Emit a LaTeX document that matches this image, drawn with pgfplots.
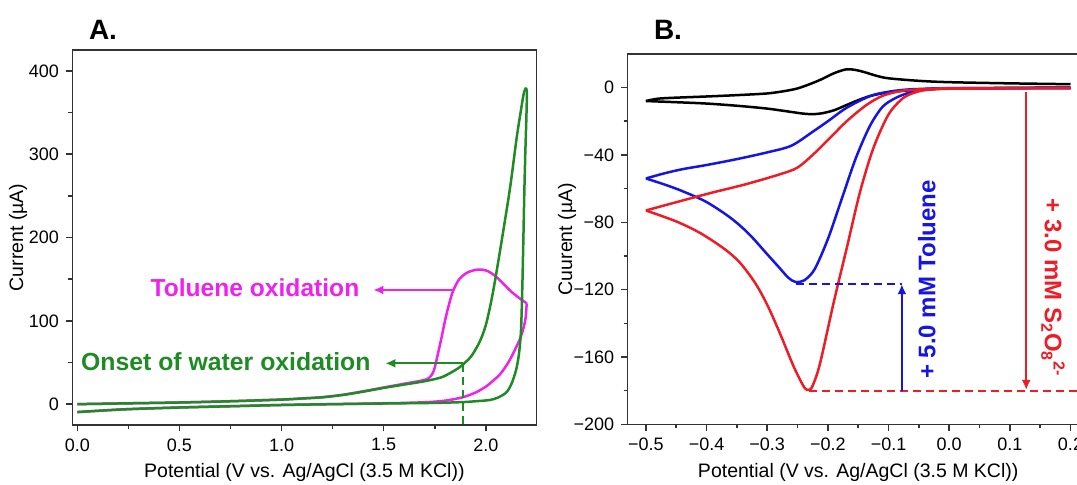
\documentclass[border=0pt]{standalone}
\usepackage{fontspec}
\setmainfont{Liberation Sans}
\usepackage{pgfplots}
\pgfplotsset{compat=1.18}
\usetikzlibrary{arrows.meta}

\definecolor{cvgreen}{HTML}{1F8B24}
\definecolor{cvmag}{HTML}{EE22EE}
\definecolor{cvblue}{HTML}{1414E6}
\definecolor{cvred}{HTML}{EE1C25}
\definecolor{axgray}{HTML}{333333}

\pgfplotsset{
  cvaxis/.style={
    scale only axis,
    axis line style={line width=0.75pt, axgray},
    tick align=outside, xtick pos=left, ytick pos=left,
    major tick length=3.2pt, minor tick length=2pt,
    every tick/.style={axgray, line width=0.75pt},
    tick label style={font=\fontsize{9}{10}\selectfont},
    label style={font=\fontsize{9.75}{11}\selectfont},
    every axis plot/.append style={line width=1.25pt, line join=round, smooth, tension=0.5},
  },
}

\begin{document}
\begin{tikzpicture}

% ---------- panel A ----------
\begin{axis}[cvaxis,
  at={(36.15pt,30pt)}, anchor=south west,
  width=232.1pt, height=187.5pt,
  xmin=-0.0245, xmax=2.248, ymin=-25, ymax=425,
  xtick={0,0.5,1,1.5,2}, xticklabels={0.0,0.5,1.0,1.5,2.0},
  minor xtick={0.25,0.75,1.25,1.75},
  ytick={0,100,200,300,400}, yticklabels={0,100,200,300,400},
  minor ytick={50,150,250,350},
  xlabel={Potential (V vs. Ag/AgCl (3.5 M KCl))},
  ylabel={Current (µA)},
  xlabel style={at={(axis description cs:0.5,-0.1253)}, anchor=center},
  ylabel style={at={(axis description cs:-0.117,0.5)}, anchor=center},
]
% with toluene: forward, then reverse
\addplot[cvmag] coordinates {
(0,0) (0.25,1) (0.5,2) (0.75,3.5) (1.0,5.5) (1.1,6.8) (1.2,8.3) (1.3,11.3)
(1.4,15.5) (1.5,20) (1.6,24.5) (1.68,28) (1.72,31) (1.745,40) (1.765,60) (1.785,82)
(1.80,100) (1.82,120) (1.84,136) (1.87,150) (1.91,158) (1.96,161.5) (2.0,160.5)
(2.04,155) (2.08,146) (2.12,136) (2.16,128) (2.2,121)};
\addplot[cvmag] coordinates {
(2.2,121) (2.195,104) (2.185,92) (2.17,80) (2.14,64) (2.11,50) (2.07,36) (2.03,27)
(2.0,21) (1.95,14) (1.89,8.5) (1.81,4.5) (1.72,2.5) (1.6,1.5) (1.5,1) (1.25,0)
(1.0,-1) (0.75,-2.5) (0.5,-4) (0.25,-6) (0.1,-8) (0,-9.5)};
% blank electrolyte: forward, then reverse
\addplot[cvgreen] coordinates {
(0,0) (0.25,1) (0.5,2) (0.75,3.5) (1.0,5.5) (1.1,6.8) (1.2,8.3) (1.3,11)
(1.4,15) (1.5,19.5) (1.6,23.5) (1.7,27.5) (1.78,32) (1.83,38) (1.87,44) (1.89,48)
(1.93,58) (1.97,75) (2.0,95) (2.03,128) (2.06,170) (2.09,215) (2.12,262) (2.15,318)
(2.17,350) (2.185,372) (2.195,379) (2.2,377)};
\addplot[cvgreen] coordinates {
(2.2,377) (2.201,370) (2.198,340) (2.193,300) (2.188,250) (2.183,190) (2.178,135)
(2.172,88) (2.162,60) (2.148,41) (2.125,24) (2.10,14) (2.06,8) (2.02,5)
(1.95,3.5) (1.89,2.5) (1.75,1.5) (1.5,0.8) (1.25,0) (1.0,-1) (0.75,-2.5)
(0.5,-4) (0.25,-6) (0.1,-8) (0,-9.5)};
\draw[cvgreen, line width=1.1pt, dash pattern=on 4pt off 2.5pt]
  (axis cs:1.889,48) -- (axis cs:1.889,-25);
\draw[cvgreen, line width=1.1pt, -{Latex[length=5pt,width=4.5pt]}]
  (axis cs:1.889,49) -- (axis cs:1.508,49);
\draw[cvmag, line width=1.1pt, -{Latex[length=5pt,width=4.5pt]}]
  (axis cs:1.845,137) -- (axis cs:1.449,137);
\node[cvmag, font=\bfseries\fontsize{12.3}{14}\selectfont, anchor=east]
  at (axis cs:1.415,140) {Toluene oxidation};
\node[cvgreen, font=\bfseries\fontsize{12.4}{14}\selectfont, anchor=east]
  at (axis cs:1.47,51) {Onset of water oxidation};
\end{axis}

% ---------- panel B ----------
\begin{axis}[cvaxis,
  at={(313.85pt,30.35pt)}, anchor=south west,
  width=230.5pt, height=185.2pt,
  xmin=-0.530, xmax=0.230, ymin=-200, ymax=20,
  xtick={-0.5,-0.4,-0.3,-0.2,-0.1,0,0.1,0.2},
  xticklabels={−0.5,−0.4,−0.3,−0.2,−0.1,0.0,0.1,0.2},
  minor xtick={-0.45,-0.35,-0.25,-0.15,-0.05,0.05,0.15},
  ytick={-200,-160,-120,-80,-40,0},
  yticklabels={−200,−160,−120,−80,−40,0},
  minor ytick={-180,-140,-100,-60,-20},
  xlabel={Potential (V vs. Ag/AgCl (3.5 M KCl))},
  ylabel={Cuurent (µA)},
  xlabel style={at={(axis description cs:0.5,-0.129)}, anchor=center},
  ylabel style={at={(axis description cs:-0.1317,0.5)}, anchor=center},
]
% blank: cathodic sweep, then anodic sweep
\addplot[black] coordinates {
(0.2,0) (0.1,-0.2) (0.0,-0.5) (-0.05,-1.2) (-0.1,-2.8) (-0.13,-5) (-0.15,-7.5)
(-0.17,-10.5) (-0.19,-13.5) (-0.21,-15.3) (-0.225,-15.8) (-0.24,-15.5)
(-0.26,-14.5) (-0.3,-12.5) (-0.35,-10.8) (-0.4,-9.5) (-0.45,-8.7) (-0.5,-8)};
\addplot[black] coordinates {
(-0.5,-8) (-0.48,-6.6) (-0.45,-6) (-0.4,-5.3) (-0.35,-4.5) (-0.3,-3.5) (-0.27,-2)
(-0.25,-0.5) (-0.23,2) (-0.21,5) (-0.19,8.5) (-0.17,10.8) (-0.155,10.5)
(-0.14,9.2) (-0.12,7) (-0.1,5.5) (-0.05,4) (0.0,3.2) (0.1,2.5) (0.2,2)};
% + 5.0 mM toluene
\addplot[cvblue] coordinates {
(0.2,-0.3) (0.1,-0.4) (0.0,-0.6) (-0.03,-1) (-0.05,-1.8) (-0.07,-3.5)
(-0.09,-6.5) (-0.11,-11.5) (-0.131,-23) (-0.154,-42) (-0.177,-66) (-0.2,-90)
(-0.222,-108) (-0.239,-114.5) (-0.253,-115.5) (-0.265,-113) (-0.28,-107)
(-0.3,-99) (-0.33,-87) (-0.36,-77.5) (-0.4,-68) (-0.44,-61.5) (-0.47,-57.5) (-0.5,-54)};
\addplot[cvblue] coordinates {
(-0.5,-54) (-0.47,-51) (-0.44,-48.5) (-0.4,-46) (-0.35,-42.5) (-0.3,-38.5)
(-0.26,-34.5) (-0.224,-26) (-0.2,-20) (-0.169,-12) (-0.13,-5) (-0.1,-2.5)
(-0.07,-1.2) (-0.03,-0.6) (0.0,-0.4) (0.2,-0.2)};
% + 3.0 mM S2O8
\addplot[cvred] coordinates {
(0.2,-0.3) (0.1,-0.4) (0.0,-0.7) (-0.03,-1.2) (-0.05,-2.2) (-0.075,-6)
(-0.10,-16) (-0.125,-36) (-0.147,-62) (-0.168,-94) (-0.19,-127) (-0.213,-164)
(-0.225,-177) (-0.231,-179.5) (-0.239,-178) (-0.256,-166) (-0.279,-146)
(-0.30,-129) (-0.32,-116) (-0.345,-104) (-0.37,-96) (-0.41,-86.5) (-0.45,-79.5)
(-0.5,-73)};
\addplot[cvred] coordinates {
(-0.5,-73) (-0.449,-68) (-0.392,-62.5) (-0.336,-57.5) (-0.279,-51.5) (-0.25,-47.5)
(-0.222,-39) (-0.194,-29) (-0.169,-20) (-0.137,-10.5) (-0.109,-4.8)
(-0.075,-1.8) (-0.03,-0.8) (0.0,-0.5) (0.2,-0.3)};
\draw[cvred, line width=1.1pt, dash pattern=on 4pt off 2.5pt]
  (axis cs:-0.231,-180) -- (axis cs:0.25,-180);
\draw[cvblue, line width=1.1pt, dash pattern=on 4pt off 2.5pt]
  (axis cs:-0.253,-116.5) -- (axis cs:-0.078,-116.5);
\draw[cvblue, line width=1.1pt, -{Latex[length=5pt,width=4.5pt]}]
  (axis cs:-0.078,-180) -- (axis cs:-0.078,-116.8);
\draw[cvred, line width=1.1pt, -{Latex[length=5pt,width=4.5pt]}]
  (axis cs:0.127,-2.4) -- (axis cs:0.127,-179.6);
\node[cvblue, font=\bfseries\fontsize{12}{14}\selectfont, rotate=90]
  at (axis cs:-0.037,-114) {+ 5.0 mM Toluene};
\node[cvred, font=\bfseries\fontsize{12}{14}\selectfont, rotate=-90]
  at (axis cs:0.171,-119) {+ 3.0 mM S\textsubscript{2}O\textsubscript{8}\textsuperscript{2-}};
\end{axis}

\node[font=\bfseries\fontsize{14}{16}\selectfont] at (51.5pt,227.5pt) {A.};
\node[font=\bfseries\fontsize{14}{16}\selectfont] at (334pt,227.5pt) {B.};

\pgfresetboundingbox
\path[use as bounding box] (0,0) rectangle (538.5pt,242.5pt);
\end{tikzpicture}
\end{document}
